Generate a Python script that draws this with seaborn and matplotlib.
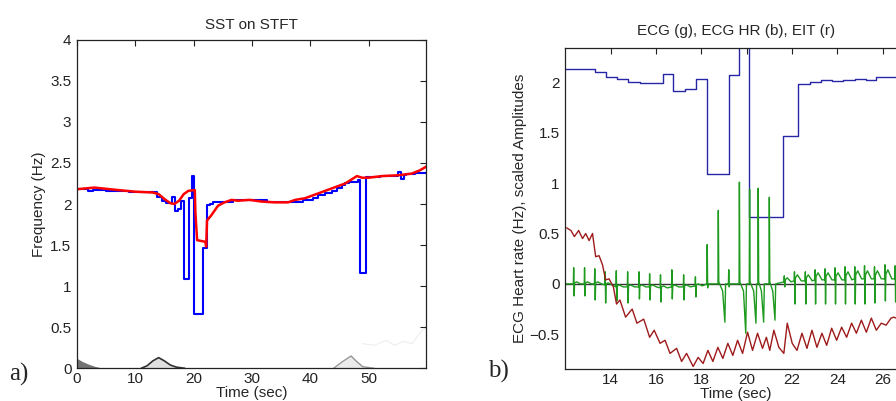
import numpy as np
import pandas as pd
import matplotlib
matplotlib.use("Agg")
import matplotlib.pyplot as plt
import seaborn as sns

sns.set_theme(style="white")
plt.rcParams['font.family'] = ['Liberation Sans', 'DejaVu Sans']

# ---------------- data: panel a) ----------------
# ECG heart rate (blue step line), step start times and values
hr_t = [0.0, 1.9, 2.8, 5.0, 9.0, 13.0, 13.7, 14.5, 15.3, 16.29, 16.77, 17.28, 17.78, 18.27, 19.2, 19.65,
        20.09, 21.6, 22.27, 22.81, 23.29, 24.8, 26.8, 32.6, 36.0, 37.2, 38.8, 40.5, 41.4, 42.6, 43.7,
        44.6, 45.4, 46.0, 46.6, 47.7, 48.2, 48.6, 49.6, 52.0, 55.1, 55.5, 56.0, 56.4, 58.0, 60.0]
hr_v = [2.18, 2.155, 2.17, 2.16, 2.15, 2.145, 2.08, 2.04, 2.008, 2.08, 1.92, 1.934, 2.036, 1.092, 2.076, 2.335,
        0.663, 1.469, 1.983, 2.0, 2.02, 2.03, 2.045, 2.03, 2.02, 2.03, 2.05, 2.07, 2.11, 2.13, 2.16,
        2.19, 2.23, 2.25, 2.27, 2.27, 2.29, 1.156, 2.33, 2.335, 2.39, 2.30, 2.35, 2.37, 2.38, 2.38]

# EIT frequency (red line)
eit_t = [0.0, 3.0, 7.0, 10.0, 13.0, 14.0, 15.0, 16.0, 16.7, 17.5, 18.3, 19.1, 20.2, 20.3, 20.6, 22.0, 22.15,
         22.3, 23.0, 24.2, 25.3, 26.5, 27.6, 29.6, 31.6, 33.9, 36.2, 37.4, 39.1, 41.4, 43.7, 46.0,
         48.0, 48.9, 50.0, 52.3, 55.1, 57.4, 58.8, 60.0]
eit_v = [2.18, 2.20, 2.17, 2.15, 2.14, 2.12, 2.06, 2.01, 2.0, 2.04, 2.12, 2.16, 2.17, 1.90, 1.56, 1.54, 1.48,
         1.80, 1.86, 1.98, 2.02, 2.05, 2.04, 2.05, 2.03, 2.02, 2.02, 2.05, 2.07, 2.13, 2.19, 2.25,
         2.34, 2.32, 2.32, 2.34, 2.35, 2.37, 2.41, 2.46]

# faint SST background features near 0 Hz
bump1_t = [11.0, 12.0, 13.0, 14.0, 15.0, 16.0, 17.0, 18.5]
bump1_v = [0.0, 0.03, 0.09, 0.13, 0.09, 0.04, 0.015, 0.0]
bump2_t = [44.0, 45.5, 47.0, 48.0, 49.0, 51.0]
bump2_v = [0.0, 0.08, 0.15, 0.08, 0.02, 0.0]
corner_t = [0.0, 1.0, 2.0, 3.0, 4.5]
corner_v = [0.12, 0.08, 0.05, 0.025, 0.0]
ripple_t = [49.0, 51.0, 53.0, 54.5, 56.0, 57.5, 59.0, 60.0]
ripple_v = [0.3, 0.28, 0.34, 0.28, 0.33, 0.3, 0.45, 0.5]

# ---------------- data: panel b) ----------------
# ECG HR step values for the zoomed window
hr2_t = [12.0, 13.32, 13.78, 14.29, 14.77, 15.31, 15.78, 16.29, 16.77, 17.28, 17.78, 18.27, 19.2, 19.65,
         20.09, 21.6, 22.27, 22.81, 23.29, 23.78, 24.26, 24.77, 25.28, 25.72, 26.3, 27.1]
hr2_v = [2.132, 2.10, 2.056, 2.03, 2.007, 1.997, 1.99, 2.08, 1.92, 1.934, 2.036, 1.092, 2.076, 2.40,
         0.663, 1.469, 1.983, 2.0, 2.02, 2.013, 2.026, 2.036, 2.026, 2.05, 2.05, 2.05]

# ECG beats: time, R peak, S trough, S lag, baseline, T-wave height
beat_t = [12.37, 12.85, 13.30, 13.76, 14.25, 14.75, 15.25, 15.72, 16.20, 16.70, 17.22, 17.74, 18.26, 18.75,
          19.21, 19.68, 20.13, 20.51, 21.00, 21.66, 22.11, 22.59, 23.02, 23.46, 23.90, 24.34, 24.77, 25.20,
          25.64, 26.10, 26.55, 27.00]
beat_r = [0.16, 0.16, 0.15, 0.12, 0.13, 0.12, 0.12, 0.10, 0.09, 0.14, 0.09, 0.07, 0.39, 0.73,
          0.14, 1.01, 0.94, 0.95, 0.86, 0.08, 0.12, 0.12, 0.14, 0.15, 0.16, 0.17, 0.17, 0.18,
          0.17, 0.19, 0.18, 0.18]
beat_s = [-0.12, -0.12, -0.16, -0.19, -0.17, -0.19, -0.15, -0.16, -0.18, -0.15, -0.16, -0.13, -0.04, -0.38,
          -0.03, -0.49, -0.39, -0.38, -0.36, -0.03, -0.20, -0.20, -0.20, -0.20, -0.20, -0.20, -0.20, -0.20,
          -0.19, -0.17, -0.18, -0.18]
beat_lag = [0.02] * 13 + [0.29, 0.02, 0.28, 0.28, 0.24, 0.25] + [0.02] * 13
beat_base = [0.0, 0.0, 0.0, -0.01, -0.03, -0.03, -0.03, -0.03, -0.04, -0.03, -0.03, -0.02, 0.0, 0.0,
             0.0, 0.0, 0.0, 0.0, 0.0, 0.02, 0.03, 0.03, 0.04, 0.04, 0.04, 0.04, 0.05, 0.05,
             0.05, 0.05, 0.05, 0.05]
beat_tw = [0.02] * 12 + [0.0] * 7 + [0.04, 0.06, 0.06, 0.07, 0.07, 0.07, 0.08, 0.08, 0.08, 0.08, 0.09, 0.09, 0.09, 0.09]

# EIT signal (dark red), read extrema
eit2_t = [12.06, 12.25, 12.40, 12.59, 12.76, 12.90, 13.05, 13.20, 13.34, 13.49, 13.64, 13.78, 13.93, 14.12,
          14.26, 14.41, 14.66, 14.95, 15.16, 15.46, 15.72, 15.92, 16.18, 16.40, 16.62, 16.91, 17.13, 17.35,
          17.64, 17.86, 18.08, 18.29, 18.51, 18.73, 18.95, 19.17, 19.39, 19.60, 19.82, 20.04, 20.26, 20.48,
          20.70, 20.87, 21.02, 21.20, 21.42, 21.64, 21.79, 22.01, 22.22, 22.44, 22.66, 22.88, 23.10, 23.32,
          23.53, 23.75, 23.97, 24.19, 24.41, 24.63, 24.84, 25.06, 25.28, 25.50, 25.72, 25.94, 26.15, 26.37,
          26.49, 26.8, 27.1]
eit2_v = [0.556, 0.53, 0.47, 0.53, 0.45, 0.50, 0.43, 0.50, 0.27, 0.28, 0.19, 0.04, 0.05, -0.03,
          -0.20, -0.16, -0.33, -0.25, -0.39, -0.35, -0.53, -0.46, -0.59, -0.56, -0.69, -0.64, -0.77, -0.69,
          -0.82, -0.73, -0.79, -0.66, -0.77, -0.63, -0.74, -0.59, -0.71, -0.56, -0.69, -0.48, -0.66, -0.49,
          -0.64, -0.53, -0.66, -0.46, -0.63, -0.69, -0.39, -0.59, -0.66, -0.49, -0.64, -0.46, -0.63, -0.49,
          -0.61, -0.44, -0.56, -0.43, -0.53, -0.39, -0.49, -0.36, -0.48, -0.34, -0.46, -0.39, -0.41, -0.34,
          -0.33, -0.36, -0.31]

# ---------------- build ECG polyline from the beat table ----------------
ecg_x, ecg_y = [12.0], [0.0]
for t, r, s, lag, b, tw in zip(beat_t, beat_r, beat_s, beat_lag, beat_base, beat_tw):
    if lag > 0.1:
        ecg_x += [t - 0.015, t, t + 0.02, t + lag - 0.1, t + lag, t + lag + 0.03]
        ecg_y += [b, r, b + 0.02, b - 0.07, s, b]
    else:
        ecg_x += [t - 0.015, t, t + lag, t + lag + 0.02, t + 0.13, t + 0.3]
        ecg_y += [b, r, s, b + tw * 0.5, b + tw, b]

# ---------------- figure ----------------
fig = plt.figure(figsize=(8.96, 4.01), dpi=100)
ax1 = fig.add_axes([77 / 896, 1 - 368.3 / 401, 349.3 / 896, 328.6 / 401])
ax2 = fig.add_axes([565.3 / 896, 1 - 369 / 401, 341.4 / 896, 321.3 / 401])

FS = 11

# panel a
ax1.fill_between(corner_t, 0, corner_v, color='black', alpha=0.55, lw=0)
ax1.fill_between(bump1_t, 0, bump1_v, color='black', alpha=0.12, lw=0)
sns.lineplot(x=bump1_t, y=bump1_v, ax=ax1, color='black', lw=1.2, alpha=0.8, estimator=None, sort=False)
ax1.fill_between(bump2_t, 0, bump2_v, color='black', alpha=0.08, lw=0)
sns.lineplot(x=bump2_t, y=bump2_v, ax=ax1, color='black', lw=1.0, alpha=0.4, estimator=None, sort=False)
sns.lineplot(x=ripple_t, y=ripple_v, ax=ax1, color='black', lw=0.8, alpha=0.07, estimator=None, sort=False)

sns.lineplot(x=hr_t, y=hr_v, ax=ax1, color='#0000ff', lw=1.5, drawstyle='steps-post',
             estimator=None, sort=False)
sns.lineplot(x=eit_t, y=eit_v, ax=ax1, color='#ff0000', lw=1.8, estimator=None, sort=False)

ax1.set_xlim(0, 59.9)
ax1.set_ylim(0, 4)
ax1.set_xticks([0, 10, 20, 30, 40, 50])
ax1.set_xticklabels(['0', '10', '20', '30', '40', '50'])
ax1.set_yticks([0, 0.5, 1, 1.5, 2, 2.5, 3, 3.5, 4])
ax1.set_yticklabels(['0', '0.5', '1', '1.5', '2', '2.5', '3', '3.5', '4'])
ax1.set_title('SST on STFT', fontsize=FS, pad=8)
ax1.set_xlabel('Time (sec)', fontsize=FS, labelpad=0)
ax1.set_ylabel('Frequency (Hz)', fontsize=FS, labelpad=3)

# panel b
ax2.axhline(0, color='#333333', lw=1.0)
sns.lineplot(x=hr2_t, y=hr2_v, ax=ax2, color='#2626a6', lw=1.0, drawstyle='steps-post',
             estimator=None, sort=False)
sns.lineplot(x=ecg_x, y=ecg_y, ax=ax2, color='#1e9a1e', lw=1.0, estimator=None, sort=False)
sns.lineplot(x=eit2_t, y=eit2_v, ax=ax2, color='#9e1a1a', lw=1.0, estimator=None, sort=False)

ax2.set_xlim(12, 27.06)
ax2.set_ylim(-0.845, 2.345)
ax2.set_xticks([14, 16, 18, 20, 22, 24, 26])
ax2.set_xticklabels(['14', '16', '18', '20', '22', '24', '26'])
ax2.set_yticks([-0.5, 0, 0.5, 1, 1.5, 2])
ax2.set_yticklabels(['\u22120.5', '0', '0.5', '1', '1.5', '2'])
ax2.set_title('ECG (g), ECG HR (b), EIT (r)', fontsize=FS, pad=9)
ax2.set_xlabel('Time (sec)', fontsize=FS, labelpad=0)
ax2.set_ylabel('ECG Heart rate (Hz), scaled Amplitudes', fontsize=FS, labelpad=2)

for ax in (ax1, ax2):
    ax.tick_params(direction='in', length=4, width=0.8, top=True, right=True,
                   labelsize=FS, colors='#222222')
    ax.tick_params(axis='x', pad=3)
    ax.tick_params(axis='y', pad=4)
    for sp in ax.spines.values():
        sp.set_color('#222222')
        sp.set_linewidth(0.9)
    ax.set_facecolor('white')

fig.text(9 / 896, 1 - 374 / 401, 'a)', fontsize=18, family=['Liberation Serif', 'DejaVu Serif'],
         va='center', ha='left')
fig.text(488 / 896, 1 - 371 / 401, 'b)', fontsize=18, family=['Liberation Serif', 'DejaVu Serif'],
         va='center', ha='left')

fig.savefig('out.png', dpi=100, facecolor='white')
